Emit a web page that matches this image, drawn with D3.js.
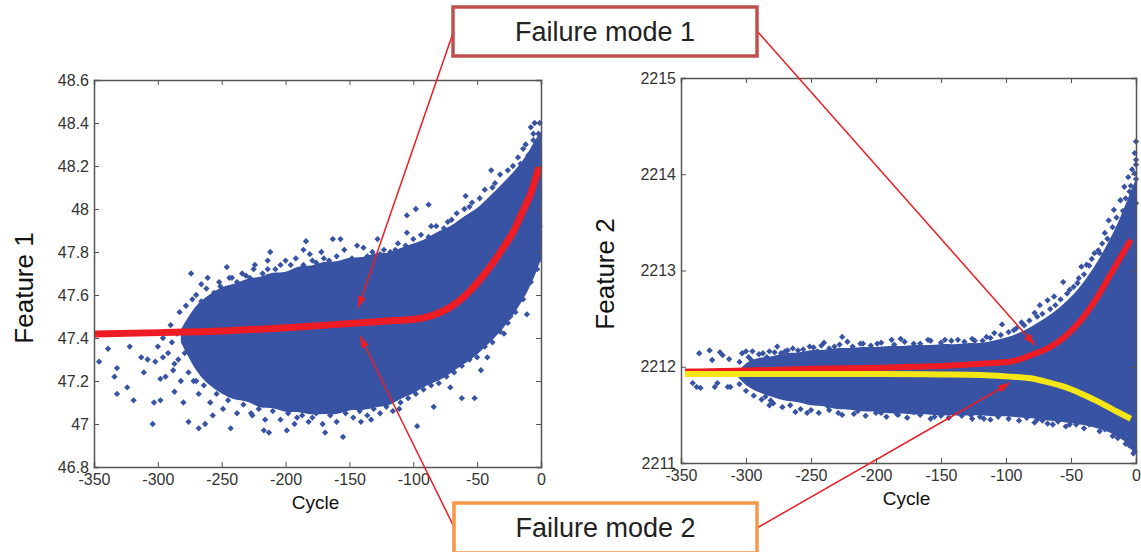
<!DOCTYPE html>
<html><head><meta charset="utf-8">
<script src="https://cdn.jsdelivr.net/npm/d3@7"></script>
<style>body{margin:0;background:#fff}svg{display:block}text{font-family:"Liberation Sans",Arial,sans-serif}</style>
</head><body><svg id="c" width="1141" height="552"></svg>
<script>
// ---------- data ----------
const xTicks = [-350,-300,-250,-200,-150,-100,-50,0];
const xTickLabels = ["-350","-300","-250","-200","-150","-100","-50","0"];
const y1Ticks = [46.8,47,47.2,47.4,47.6,47.8,48,48.2,48.4,48.6];
const y1TickLabels = ["46.8","47","47.2","47.4","47.6","47.8","48","48.2","48.4","48.6"];
const y2Ticks = [2211,2212,2213,2214,2215];
const y2TickLabels = ["2211","2212","2213","2214","2215"];

// Feature 1 dense core (envelope of the solid cloud)
const f1CoreCycle = [-282,-270,-260,-250,-240,-230,-220,-210,-200,-190,-180,-170,-160,-150,-140,-130,-120,-110,-100,-90,-80,-70,-60,-50,-40,-30,-20,-10,-4,0];
const f1CoreUpper = [47.44,47.56,47.60,47.64,47.65,47.68,47.68,47.71,47.70,47.74,47.73,47.76,47.75,47.78,47.77,47.80,47.79,47.82,47.84,47.86,47.90,47.92,47.97,48.00,48.06,48.12,48.18,48.26,48.33,48.36];
const f1CoreLower = [47.38,47.24,47.18,47.14,47.11,47.11,47.07,47.08,47.05,47.06,47.04,47.05,47.04,47.07,47.06,47.08,47.08,47.12,47.14,47.18,47.20,47.24,47.28,47.32,47.38,47.44,47.52,47.62,47.70,47.77];
// Feature 1 outer scattered points
const f1PtCycle = [-346,-339,-332,-334,-332,-324,-322,-319,-313,-311,-308,-304,-303,-302,-298,-296,-298,-289,-287,-287,-283,-280,-282,-276,-274,-273,-272,-270,-268,-266,-263,-261,-257,-256,-251,-246,-243,-242,-235,-231,-227,-225,-217,-214,-212,-213,-200,-199,-191,-186,-184,-179,-179,-170,-169,-163,-157,-155,-141,-139,-133,-128,-123,-120,-114,-111,-105,-105,-97,-98,-88,-86,-84,-73,-71,-62,-59,-56,-52,-47,-42,-39,-38,-29,-24,-11,-22,-16,-1,-2,-12,-8,-5,-2,-3,-10,-6,-1];
const f1PtValue = [47.29,47.35,47.26,47.22,47.14,47.17,47.36,47.11,47.31,47.24,47.30,47.00,47.10,47.29,47.11,47.31,47.21,47.38,47.28,47.15,47.52,47.10,47.20,47.01,47.70,47.58,47.44,47.20,46.98,47.65,47.00,47.68,47.04,47.61,47.64,47.73,46.98,47.68,47.64,47.69,47.05,47.72,46.97,47.72,47.80,46.96,47.76,46.97,47.03,47.81,47.85,47.76,47.03,47.77,46.96,47.86,47.86,46.94,47.01,47.82,47.02,47.86,47.81,47.10,47.81,47.07,47.97,47.89,46.99,48.00,48.02,47.92,47.08,47.94,47.17,47.12,48.06,48.01,47.12,47.25,47.31,48.18,48.10,47.42,47.50,47.51,48.20,48.21,47.92,47.76,48.30,48.38,48.40,48.35,48.27,48.25,48.32,48.40];
// Feature 1 points in the ring round the core
const f1RingCycle = [-278,-275,-270,-266,-262,-258,-252,-248,-244,-238,-234,-228,-224,-218,-214,-208,-204,-196,-192,-186,-181,-176,-172,-166,-160,-154,-148,-144,-136,-132,-126,-118,-112,-106,-100,-94,-88,-82,-76,-70,-66,-60,-54,-48,-44,-36,-32,-26,-18,-14,-6,
  -279,-276,-272,-268,-264,-259,-254,-249,-245,-238,-233,-226,-221,-216,-210,-204,-198,-193,-187,-182,-176,-171,-165,-160,-153,-147,-142,-136,-131,-126,-121,-116,-110,-104,-98,-92,-86,-80,-74,-68,-62,-56,-50,-44,-38,-32,-26,-20,-14,-8,-3,
  -296,-292,-290,-288,-285,-284,-294,-300];
const f1RingValue = [47.55,47.48,47.60,47.57,47.63,47.55,47.66,47.62,47.68,47.66,47.70,47.68,47.74,47.70,47.76,47.72,47.74,47.74,47.77,47.74,47.79,47.75,47.80,47.76,47.78,47.81,47.77,47.83,47.78,47.80,47.79,47.80,47.84,47.83,47.86,47.88,47.87,47.92,47.91,47.95,47.98,48.00,48.03,48.05,48.09,48.12,48.16,48.18,48.24,48.28,48.35,
  47.33,47.24,47.20,47.14,47.18,47.10,47.14,47.07,47.11,47.05,47.09,47.04,47.07,47.02,47.06,47.02,47.05,47.00,47.04,47.01,47.05,47.00,47.04,47.01,47.05,47.03,47.06,47.04,47.07,47.05,47.08,47.06,47.10,47.12,47.14,47.16,47.18,47.19,47.22,47.24,47.27,47.30,47.31,47.36,47.38,47.43,47.47,47.52,47.58,47.66,47.72,
  47.40,47.33,47.46,47.25,47.42,47.30,47.22,47.36];
// Feature 1 fitted trend (failure mode 1)
const f1FitCycle = [-350,-298,-246,-193,-141,-115,-99,-86,-76,-65,-55,-46,-37,-29,-21,-15,-8,-1.5];
const f1FitValue = [47.419,47.425,47.434,47.450,47.471,47.481,47.487,47.503,47.527,47.569,47.623,47.685,47.755,47.825,47.902,47.980,48.073,48.197];

// Feature 2 dense core
const f2CoreCycle = [-306,-300,-290,-280,-270,-260,-250,-240,-230,-220,-210,-200,-190,-180,-170,-160,-150,-140,-130,-120,-110,-100,-90,-80,-70,-60,-50,-40,-30,-20,-12,-6,0];
const f2CoreUpper = [2211.95,2212.05,2212.10,2212.10,2212.15,2212.14,2212.18,2212.17,2212.20,2212.19,2212.21,2212.20,2212.22,2212.21,2212.23,2212.22,2212.24,2212.23,2212.25,2212.24,2212.27,2212.30,2212.35,2212.42,2212.50,2212.60,2212.72,2212.88,2213.08,2213.32,2213.55,2213.76,2213.95];
const f2CoreLower = [2211.89,2211.80,2211.73,2211.69,2211.64,2211.64,2211.59,2211.60,2211.55,2211.56,2211.53,2211.54,2211.51,2211.52,2211.50,2211.51,2211.49,2211.50,2211.49,2211.50,2211.48,2211.49,2211.47,2211.47,2211.44,2211.44,2211.41,2211.40,2211.36,2211.32,2211.26,2211.20,2211.12];
// Feature 2 outer scattered points
const f2PtCycle = [-336,-328,-326,-320,-318,-313,-341,-338,-335,-324,-322,-314,-312,-303,-300,-296,-295,-287,-282,-276,-273,-268,-260,-251,-245,-240,-232,-226,-222,-212,-199,-188,-181,-171,-160,-147,-137,-124,-115,-109,-103,-94,-88,-78,-74,-68,-63,-56,-51,-45,-42,-38,-32,-29,-24,-21,-17,-12,-9,-6,-5,-1,0,0,0,-2,
  -296,-291,-285,-282,-281,-262,-253,-237,-229,-217,-206,-196,-183,-171,-155,-137,-127,-117,-104,-94,-76,-68,-58,-51,-42,-32,-22,-17,-12,-3,-1,-6,-10,-2];
const f2PtValue = [2212.14,2212.17,2212.07,2212.15,2212.12,2212.08,2211.83,2211.79,2211.78,2211.79,2211.83,2211.79,2211.79,2212.14,2212.16,2212.07,2212.16,2212.14,2212.16,2212.21,2212.14,2212.17,2212.17,2212.21,2212.16,2212.25,2212.21,2212.31,2212.26,2212.24,2212.24,2212.28,2212.29,2212.24,2212.28,2212.28,2212.28,2212.27,2212.31,2212.35,2212.44,2212.38,2212.46,2212.56,2212.64,2212.69,2212.73,2212.88,2212.80,2212.87,2213.04,2213.06,2213.18,2213.21,2213.39,2213.52,2213.63,2213.73,2213.87,2213.97,2213.82,2214.01,2214.34,2214.15,2213.70,2213.56,
  2211.83,2211.79,2211.69,2211.60,2211.65,2211.53,2211.52,2211.59,2211.52,2211.51,2211.59,2211.52,2211.50,2211.53,2211.48,2211.52,2211.50,2211.46,2211.52,2211.52,2211.45,2211.41,2211.48,2211.40,2211.43,2211.43,2211.38,2211.29,2211.31,2211.17,2211.12,2211.22,2211.27,2211.15];
// Feature 2 points in the ring round the core
const f2RingCycle = [-305,-298,-290,-284,-278,-270,-264,-256,-248,-242,-236,-228,-218,-210,-204,-196,-186,-178,-166,-158,-150,-142,-132,-126,-118,-112,-104,-98,-92,-86,-82,-76,-72,-66,-62,-58,-53,-48,-44,-40,-36,-34,-28,-26,-22,-18,-15,-10,-8,-4,-3,-1,0,0,
  -305,-300,-294,-288,-279,-272,-266,-258,-250,-244,-236,-226,-214,-208,-200,-192,-184,-176,-166,-158,-150,-144,-134,-126,-120,-112,-106,-98,-90,-84,-78,-72,-64,-60,-54,-46,-40,-36,-28,-24,-18,-14,-8,-5,-2];
const f2RingValue = [2212.05,2212.10,2212.13,2212.10,2212.15,2212.16,2212.19,2212.18,2212.20,2212.22,2212.19,2212.23,2212.21,2212.24,2212.22,2212.25,2212.23,2212.26,2212.24,2212.27,2212.25,2212.27,2212.26,2212.29,2212.27,2212.30,2212.33,2212.36,2212.40,2212.43,2212.48,2212.52,2212.55,2212.60,2212.64,2212.70,2212.76,2212.83,2212.92,2212.96,2213.05,2213.12,2213.18,2213.28,2213.33,2213.45,2213.55,2213.62,2213.75,2213.88,2214.05,2214.22,2213.95,2214.10,
  2211.82,2211.75,2211.70,2211.66,2211.62,2211.58,2211.60,2211.56,2211.55,2211.52,2211.55,2211.50,2211.54,2211.49,2211.52,2211.48,2211.51,2211.47,2211.50,2211.46,2211.49,2211.47,2211.49,2211.46,2211.48,2211.45,2211.48,2211.46,2211.44,2211.47,2211.42,2211.44,2211.40,2211.43,2211.38,2211.40,2211.36,2211.40,2211.33,2211.35,2211.28,2211.26,2211.20,2211.18,2211.10];
// Feature 2 fitted trends
const f2Fit1Cycle = [-347,-300,-247,-196,-170,-145,-119,-94,-81,-68,-55,-42,-29.5,-17,-4];
const f2Fit1Value = [2211.95,2211.96,2211.98,2211.99,2212.00,2212.01,2212.03,2212.06,2212.12,2212.19,2212.31,2212.49,2212.73,2213.02,2213.32];
const f2Fit2Cycle = [-347,-250,-196,-150,-119,-100,-81,-68,-55,-42,-29.5,-17,-4];
const f2Fit2Value = [2211.925,2211.925,2211.925,2211.92,2211.914,2211.90,2211.88,2211.84,2211.79,2211.72,2211.64,2211.55,2211.46];

const boxLabels = ["Failure mode 1","Failure mode 2"];

// ---------- drawing ----------
const svg = d3.select("#c");
const BLUE = "#3953a4", RED = "#ed1c24", YEL = "#f5e616", AX = "#555";

function panel(o){
  const x = d3.scaleLinear().domain([-350,0]).range([o.x0,o.x1]);
  const y = d3.scaleLinear().domain(o.yDom).range([o.y1,o.y0]);
  const g = svg.append("g");
  const area = d3.area().x((d,i)=>x(o.coreC[i])).y0((d,i)=>y(o.coreL[i])).y1((d,i)=>y(o.coreU[i])).curve(d3.curveBasis);
  g.append("path").datum(o.coreC).attr("d",area).attr("fill",BLUE);
  const sym = d3.symbol().type(d3.symbolSquare).size(20);
  const pts = o.ptC.map((c,i)=>[c,o.ptV[i]]).concat(o.ringC.map((c,i)=>[c,o.ringV[i]]));
  g.selectAll("path.pt").data(pts).join("path").attr("class","pt")
    .attr("d",sym).attr("fill",BLUE)
    .attr("transform",d=>`translate(${x(d[0])},${y(d[1])}) rotate(45)`);
  o.fits.forEach(f=>{
    const line = d3.line().x((d,i)=>x(f.c[i])).y((d,i)=>y(f.v[i])).curve(d3.curveMonotoneX);
    g.append("path").datum(f.c).attr("d",line).attr("fill","none").attr("stroke",f.color).attr("stroke-width",f.w);
  });
  const ax = g.append("g").attr("class","axes");
  ax.append("g").attr("transform",`translate(0,${o.y1})`)
    .call(d3.axisBottom(x).tickValues(xTicks).tickFormat((d,i)=>xTickLabels[i]).tickSize(-5).tickPadding(7));
  ax.append("g").attr("transform",`translate(${o.x0},0)`)
    .call(d3.axisLeft(y).tickValues(o.yTicks).tickFormat((d,i)=>o.yLabels[i]).tickSize(-5).tickPadding(5));
  ax.append("g").attr("transform",`translate(0,${o.y0})`).call(d3.axisTop(x).tickValues(xTicks).tickFormat("").tickSize(-5));
  ax.append("g").attr("transform",`translate(${o.x1},0)`).call(d3.axisRight(y).tickValues(o.yTicks).tickFormat("").tickSize(-5));
  ax.selectAll(".domain").attr("stroke",AX).attr("stroke-width",1.5);
  ax.selectAll(".tick line").attr("stroke",AX).attr("stroke-width",1);
  ax.selectAll(".tick text").attr("fill","#333").style("font-size","16px").attr("font-family",null);
  g.append("text").attr("x",(o.x0+o.x1)/2 - 2).attr("y",o.y1+42).attr("text-anchor","middle")
    .style("font-size","19px").attr("fill","#111").text("Cycle");
  g.append("text").attr("transform",`translate(${o.ylx},${o.yly}) rotate(-90)`).attr("text-anchor","middle")
    .style("font-size","26px").attr("fill","#111").text(o.ylabel);
}

panel({x0:94,x1:541,y0:80,y1:467,yDom:[46.8,48.6],yTicks:y1Ticks,yLabels:y1TickLabels,
  coreC:f1CoreCycle,coreU:f1CoreUpper,coreL:f1CoreLower,ptC:f1PtCycle,ptV:f1PtValue,ringC:f1RingCycle,ringV:f1RingValue,
  fits:[{c:f1FitCycle,v:f1FitValue,color:RED,w:7}],ylabel:"Feature 1",ylx:33,yly:288});
panel({x0:681,x1:1136,y0:78,y1:463,yDom:[2211,2215],yTicks:y2Ticks,yLabels:y2TickLabels,
  coreC:f2CoreCycle,coreU:f2CoreUpper,coreL:f2CoreLower,ptC:f2PtCycle,ptV:f2PtValue,ringC:f2RingCycle,ringV:f2RingValue,
  fits:[{c:f2Fit1Cycle,v:f2Fit1Value,color:RED,w:6},{c:f2Fit2Cycle,v:f2Fit2Value,color:YEL,w:6}],ylabel:"Feature 2",ylx:614,yly:274});

// arrows
const defs = svg.append("defs");
defs.append("marker").attr("id","ah").attr("viewBox","0 0 12 8").attr("refX",12).attr("refY",4)
  .attr("markerWidth",12).attr("markerHeight",8).attr("markerUnits","userSpaceOnUse").attr("orient","auto")
  .append("path").attr("d","M0,0L12,4L0,8Z").attr("fill",RED);
const arrows = [[453,33,358,308],[758,32,1035,345],[454,527,360,336],[757,528,1010,383]];
svg.selectAll("line.arr").data(arrows).join("line").attr("class","arr")
  .attr("x1",d=>d[0]).attr("y1",d=>d[1]).attr("x2",d=>d[2]).attr("y2",d=>d[3])
  .attr("stroke",RED).attr("stroke-width",1.5).attr("marker-end","url(#ah)");

// boxes
const boxes = [{x:453,y:7,w:304,h:49,c:"#c0504d",t:boxLabels[0]},{x:454,y:503,w:303,h:50,c:"#f79646",t:boxLabels[1]}];
boxes.forEach(b=>{
  svg.append("rect").attr("x",b.x).attr("y",b.y).attr("width",b.w).attr("height",b.h)
    .attr("fill","#fff").attr("stroke",b.c).attr("stroke-width",3.5);
  svg.append("text").attr("x",b.x+b.w/2).attr("y",b.y+34).attr("text-anchor","middle")
    .style("font-size","27px").attr("fill","#222").text(b.t);
});
</script></body></html>
